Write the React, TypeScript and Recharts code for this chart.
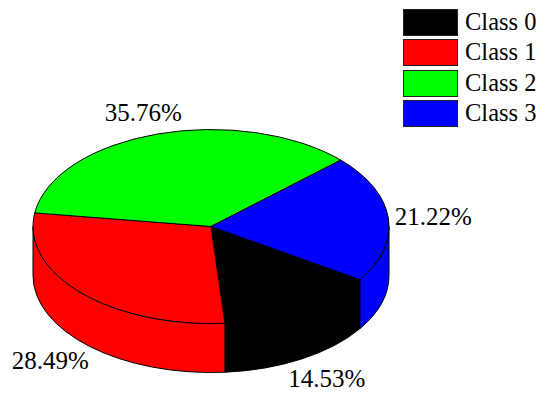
import { PieChart, Pie, Legend } from "recharts";

const categories = ["Class 0", "Class 1", "Class 2", "Class 3"];
const shares = [14.53, 28.49, 35.76, 21.22];
const COLORS = ["#000000", "#ff0000", "#00ff00", "#0000ff"];

const data = categories.map((name, i) => ({ name, value: shares[i], fill: COLORS[i] }));

const FONT = '"Liberation Serif", serif';
const RADIAN = Math.PI / 180;
const CX = 211;
const CY = 226.5;
const RX = 178;
const RY = 97;
const DEPTH = 49;
const START = -33.2;

// where each percentage sits relative to the rim point of its slice
const LABEL_NUDGE = [
  { dx: 25, dy: 69 },
  { dx: -31, dy: 68 },
  { dx: -14, dy: -22 },
  { dx: 6.5, dy: -2 },
];

const rim = (cx: number, cy: number, rx: number, angle: number) => ({
  x: cx + rx * Math.cos(angle * RADIAN),
  y: cy - rx * (RY / RX) * Math.sin(angle * RADIAN),
});

const TopFace = (props: any) => {
  const { cx, cy, outerRadius: rx, startAngle, endAngle, fill } = props;
  const from = Math.max(startAngle, endAngle);
  const to = Math.min(startAngle, endAngle);
  const ry = rx * (RY / RX);
  const a = rim(cx, cy, rx, from);
  const b = rim(cx, cy, rx, to);
  const large = from - to > 180 ? 1 : 0;
  return (
    <path
      d={`M${cx},${cy} L${a.x},${a.y} A${rx},${ry} 0 ${large} 1 ${b.x},${b.y} Z`}
      fill={fill}
      stroke="#000"
      strokeWidth={1}
    />
  );
};

// only the front half of the rim (0 to -180 degrees) shows a wall
const Wall = (props: any) => {
  const { cx, cy, outerRadius: rx, startAngle, endAngle, fill } = props;
  const high = Math.max(startAngle, endAngle);
  const low = Math.min(startAngle, endAngle);
  const ry = rx * (RY / RX);
  const parts = [0, -360]
    .map((k) => [Math.min(high, k), Math.max(low, k - 180)])
    .filter(([from, to]) => from > to);
  return (
    <g>
      {parts.map(([from, to], i) => {
        const a = rim(cx, cy, rx, from);
        const b = rim(cx, cy, rx, to);
        return (
          <path
            key={i}
            d={`M${a.x},${a.y} A${rx},${ry} 0 0 1 ${b.x},${b.y} L${b.x},${b.y + DEPTH} A${rx},${ry} 0 0 0 ${a.x},${a.y + DEPTH} Z`}
            fill={fill}
            stroke="#000"
            strokeWidth={1}
          />
        );
      })}
    </g>
  );
};

const renderLabel = (props: any) => {
  const { midAngle, value, index } = props;
  const p = rim(CX, CY, RX, midAngle);
  return (
    <text
      x={p.x + LABEL_NUDGE[index].dx}
      y={p.y + LABEL_NUDGE[index].dy}
      fill="#000"
      fontFamily={FONT}
      fontSize={25}
      textAnchor={index === 3 ? "start" : "middle"}
      dominantBaseline="central"
    >
      {`${value.toFixed(2)}%`}
    </text>
  );
};

const renderLegend = () => (
  <div style={{ fontFamily: FONT, fontSize: 24.5, color: "#000" }}>
    {data.map((item) => (
      <div key={item.name} style={{ display: "flex", alignItems: "center", height: 27, marginBottom: 3.3 }}>
        <div
          style={{
            width: 53,
            height: 25,
            backgroundColor: item.fill,
            border: "1px solid #222",
          }}
        />
        <span style={{ marginLeft: 7, lineHeight: "27px", position: "relative", top: -1 }}>{item.name}</span>
      </div>
    ))}
  </div>
);

const App = () => {
  return (
    <div style={{ position: "absolute", left: 0, top: 0 }}>
      <PieChart width={550} height={402} margin={{ top: 0, right: 0, bottom: 0, left: 0 }}>
        <Pie
          data={data}
          dataKey="value"
          cx={CX}
          cy={CY}
          outerRadius={RX}
          startAngle={START}
          endAngle={START - 360}
          legendType="none"
          shape={Wall}
          isAnimationActive={false}
        />
        <Pie
          data={data}
          dataKey="value"
          cx={CX}
          cy={CY}
          outerRadius={RX}
          startAngle={START}
          endAngle={START - 360}
          shape={TopFace}
          label={renderLabel}
          labelLine={false}
          isAnimationActive={false}
        />
        <Legend
          content={renderLegend}
          wrapperStyle={{ position: "absolute", left: 403, top: 9, width: 147, bottom: "auto", right: "auto" }}
        />
      </PieChart>
    </div>
  );
};

export default App;
